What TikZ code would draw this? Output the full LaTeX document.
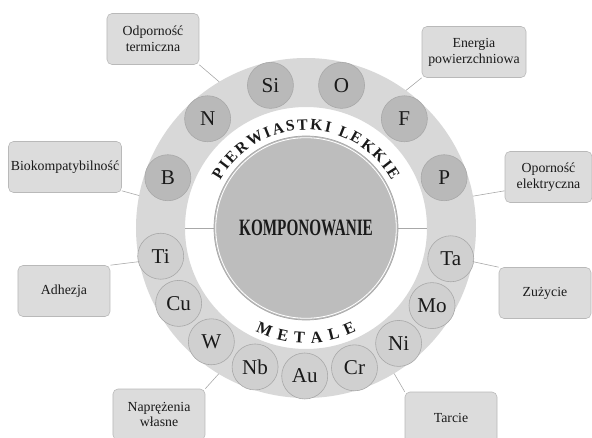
\documentclass[tikz,border=0pt]{standalone}
\usepackage{fontspec}
\setmainfont{Liberation Serif}
\usetikzlibrary{decorations.text}
\definecolor{ringgray}{HTML}{D8D8D8}
\definecolor{lightfill}{HTML}{B9B9B9}
\definecolor{metalfill}{HTML}{D0D0D0}
\definecolor{corefill}{HTML}{BDBDBD}
\definecolor{boxfill}{HTML}{DCDCDC}
\definecolor{edgegray}{HTML}{A8A8A8}
\definecolor{ink}{HTML}{1A1A1A}
\tikzset{
  elem/.style={circle,draw=edgegray,line width=0.5pt,minimum size=13.8mm,
               inner sep=0pt,font=\fontsize{18}{20}\selectfont,text=ink},
  lightelem/.style={elem,fill=lightfill},
  metalelem/.style={elem,fill=metalfill},
  propbox/.style={draw=edgegray!80,fill=boxfill,line width=0.5pt,
                  rounded corners=1.5mm,minimum width=27.6mm,
                  minimum height=15.3mm,align=center,inner sep=2pt,
                  font=\fontsize{11.8}{13.5}\selectfont,text=ink},
  core/.style={circle,draw=edgegray,fill=corefill,line width=0.6pt,
               minimum size=55.2mm,inner sep=0pt,text=ink},
  link/.style={draw=edgegray,line width=0.5pt},
  arctext/.style={decorate,decoration={text along path,
                  text align={fit to path}}}
}

\begin{document}
\begin{tikzpicture}[x=0.3mm,y=0.3mm]
    \useasboundingbox (-306,-209) rectangle (286,228);
    \fill[ringgray,even odd rule] (0,0) circle (170) (0,0) circle (121);
    \node[core] (komp) at (0,0)
      {\scalebox{0.65}[1]{\fontsize{20}{20}\selectfont\bfseries KOMPONOWANIE}};
    \draw[white,line width=0.7pt] (0,0) circle (90.3);
    \draw[link] (komp.west) -- (180:121);
    \draw[link] (komp.east) -- (0:121);

    \foreach \el [count=\i] in {B,N,Si,O,F,P}
      \node[lightelem] (\el) at ({188-28*\i}:147) {\el};
    \foreach \el [count=\i] in {Ta,Mo,Ni,Cr,Au,Nb,W,Cu,Ti}
      \node[metalelem] (\el) at ({7.625-19.625*\i}:148) {\el};

    \path[arctext,decoration={text={|\fontsize{13.5}{13.5}\selectfont\bfseries\color{ink}|PIERWIASTKI LEKKIE}}]
      (151:98) arc[start angle=151,end angle=29,radius=98];
    \path[arctext,decoration={text={|\fontsize{14}{14}\selectfont\bfseries\color{ink}|METALE}}]
      (244:115) arc[start angle=244,end angle=296,radius=115];

    \node[propbox] (odp) at (-153,189) {Odporność\\termiczna};
    \node[propbox,minimum width=31.2mm] (energia) at (168,176) {Energia\\powierzchniowa};
    \node[propbox,minimum width=33.6mm] (bio) at (-241,61) {Biokompatybilność};
    \node[propbox] (adh) at (-242,-63) {Adhezja};
    \node[propbox,minimum width=26.1mm] (opor) at (242.5,51) {Oporność\\elektryczna};
    \node[propbox] (zuz) at (239,-65) {Zużycie};
    \node[propbox] (napr) at (-147,-186.5) {Naprężenia\\własne};
    \node[propbox] (tarcie) at (145,-189.5) {Tarcie};

    \coordinate (e-odp) at (120.7:170);
    \coordinate (e-energia) at (54:170);
    \coordinate (e-bio) at (169:170);
    \coordinate (e-adh) at (191.4:170);
    \coordinate (e-opor) at (10.8:170);
    \coordinate (e-zuz) at (-11.4:170);
    \coordinate (e-napr) at (-120.9:170);
    \coordinate (e-tarcie) at (-58.8:170);
    \draw[link] (odp.south east) -- (e-odp);
    \draw[link] (energia.south west) -- (e-energia);
    \draw[link] ([yshift=0.6mm]bio.south east) -- (e-bio);
    \draw[link] (adh.north east) -- (e-adh);
    \draw[link] ([yshift=3.6mm]opor.south west) -- (e-opor);
    \draw[link] (zuz.north west) -- (e-zuz);
    \draw[link] (napr.north east) -- (e-napr);
    \draw[link] (tarcie.north west) -- (e-tarcie);
\end{tikzpicture}
\end{document}
